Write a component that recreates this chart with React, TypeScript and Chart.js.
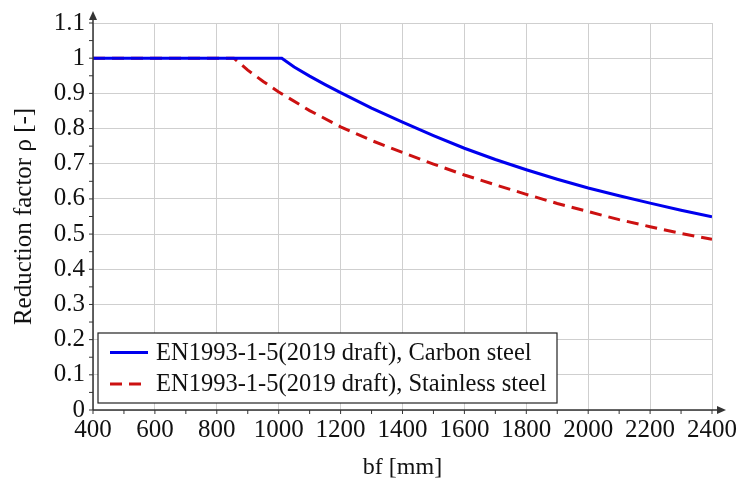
import React, { useEffect, useRef } from "react";
import { Chart, registerables } from "chart.js";

Chart.register(...registerables);

const carbonX = [400, 1010, 1050, 1100, 1150, 1200, 1300, 1400, 1500, 1600, 1700, 1800, 1900, 2000, 2100, 2200, 2300, 2400];
const carbonY = [1, 1, 0.975, 0.949, 0.925, 0.902, 0.858, 0.818, 0.78, 0.744, 0.712, 0.683, 0.656, 0.631, 0.609, 0.588, 0.568, 0.549];
const stainlessX = [400, 855, 900, 950, 1000, 1100, 1200, 1300, 1400, 1500, 1600, 1700, 1800, 1900, 2000, 2100, 2200, 2300, 2400];
const stainlessY = [1, 1, 0.966, 0.934, 0.904, 0.851, 0.805, 0.766, 0.732, 0.699, 0.668, 0.64, 0.613, 0.587, 0.564, 0.541, 0.521, 0.502, 0.485];
const seriesLabels = ["EN1993-1-5(2019 draft), Carbon steel", "EN1993-1-5(2019 draft), Stainless steel"];
const xTitle = "bf [mm]";
const yTitle = "Reduction factor ρ [-]";

const FONT = "'Liberation Serif', 'Times New Roman', serif";
const AXIS = "#333333";

const overlay = {
  id: "overlay",
  afterDraw(chart: any) {
    const ctx = chart.ctx;
    const { left, right, top, bottom } = chart.chartArea;
    const xs = chart.scales.x;
    const ys = chart.scales.y;
    ctx.save();
    ctx.strokeStyle = AXIS;
    ctx.fillStyle = AXIS;
    ctx.lineWidth = 1.5;
    ctx.beginPath();
    ctx.moveTo(left, bottom);
    ctx.lineTo(left, top - 8);
    ctx.moveTo(left, bottom);
    ctx.lineTo(right + 10, bottom);
    ctx.stroke();
    ctx.beginPath();
    ctx.moveTo(left, top - 12);
    ctx.lineTo(left - 4, top - 3);
    ctx.lineTo(left + 4, top - 3);
    ctx.closePath();
    ctx.fill();
    ctx.beginPath();
    ctx.moveTo(right + 14, bottom);
    ctx.lineTo(right + 5, bottom - 4);
    ctx.lineTo(right + 5, bottom + 4);
    ctx.closePath();
    ctx.fill();
    ctx.lineWidth = 1;
    ctx.beginPath();
    for (let v = 400; v <= 2400; v += 100) {
      const px = xs.getPixelForValue(v);
      ctx.moveTo(px, bottom);
      ctx.lineTo(px, bottom + 4);
    }
    for (let i = 0; i <= 22; i++) {
      const py = ys.getPixelForValue(i * 0.05);
      ctx.moveTo(left, py);
      ctx.lineTo(left - 4, py);
    }
    ctx.stroke();
    // legend
    const bx = 98, by = 333, bw = 459, bh = 70;
    ctx.fillStyle = "#ffffff";
    ctx.fillRect(bx, by, bw, bh);
    ctx.strokeStyle = "#222222";
    ctx.lineWidth = 1.2;
    ctx.strokeRect(bx, by, bw, bh);
    const rows = [352.5, 384];
    const styles = [
      { color: "#0000ee", dash: [] as number[] },
      { color: "#cc1111", dash: [12, 7] },
    ];
    ctx.font = `24.5px ${FONT}`;
    ctx.textBaseline = "middle";
    rows.forEach((ry, i) => {
      ctx.strokeStyle = styles[i].color;
      ctx.lineWidth = 3;
      ctx.setLineDash(styles[i].dash);
      ctx.beginPath();
      ctx.moveTo(110, ry);
      ctx.lineTo(148, ry);
      ctx.stroke();
      ctx.setLineDash([]);
      ctx.fillStyle = "#111111";
      ctx.fillText(seriesLabels[i], 156, ry + 1);
    });
    ctx.restore();
  },
};

export default function App() {
  const ref = useRef<HTMLCanvasElement>(null);
  useEffect(() => {
    const chart = new Chart(ref.current!, {
      type: "line",
      data: {
        datasets: [
          {
            label: seriesLabels[0],
            data: carbonX.map((x, i) => ({ x, y: carbonY[i] })),
            borderColor: "#0000ee",
            borderWidth: 3,
            pointRadius: 0,
            tension: 0,
          },
          {
            label: seriesLabels[1],
            data: stainlessX.map((x, i) => ({ x, y: stainlessY[i] })),
            borderColor: "#cc1111",
            borderWidth: 3,
            borderDash: [12, 7],
            pointRadius: 0,
            tension: 0,
          },
        ],
      },
      options: {
        animation: false,
        responsive: false,
        layout: { padding: { top: 20, right: 26, left: 0, bottom: 0 } },
        plugins: { legend: { display: false }, tooltip: { enabled: false } },
        scales: {
          x: {
            type: "linear",
            min: 400,
            max: 2400,
            border: { display: false },
            grid: { color: "#cfcfcf", drawTicks: false },
            ticks: { stepSize: 200, padding: 5, color: "#111", font: { family: FONT, size: 25 }, callback: (v: any) => String(v) },
            title: { display: true, text: xTitle, color: "#111", font: { family: FONT, size: 24 }, padding: { top: 0, bottom: 2 } },
            afterFit: (s: any) => { s.height = 74; },
          },
          y: {
            type: "linear",
            min: 0,
            max: 1.1,
            border: { display: false },
            grid: { color: "#cfcfcf", drawTicks: false },
            ticks: {
              stepSize: 0.1,
              padding: 8,
              color: "#111",
              font: { family: FONT, size: 25 },
              callback: (v: any) => String(Math.round(Number(v) * 10) / 10),
            },
            title: { display: true, text: yTitle, color: "#111", font: { family: FONT, size: 25 }, padding: { top: 9, bottom: 0 } },
            afterFit: (s: any) => { s.width = 93; },
          },
        },
      },
      plugins: [overlay],
    });
    return () => chart.destroy();
  }, []);
  return (
    <div style={{ position: "fixed", left: 0, top: 0, width: 742, height: 484, background: "#fff" }}>
      <canvas ref={ref} width={742} height={484} style={{ width: 742, height: 484 }} />
    </div>
  );
}
